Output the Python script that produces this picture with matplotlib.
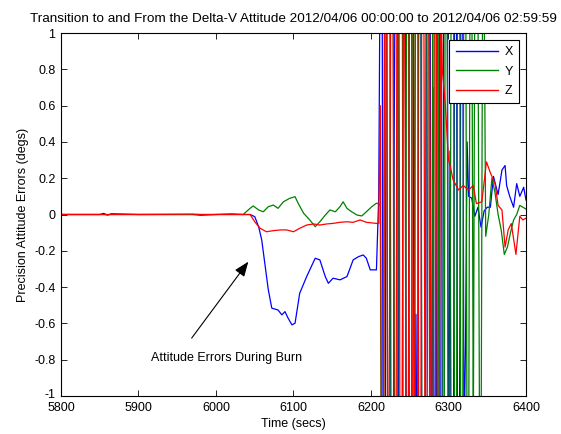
import matplotlib
matplotlib.use("Agg")
import matplotlib.pyplot as plt
from matplotlib.transforms import ScaledTranslation

plt.rcParams['font.family'] = ['Liberation Sans', 'DejaVu Sans']

title = "Transition to and From the Delta-V Attitude 2012/04/06 00:00:00 to 2012/04/06 02:59:59"
xlabel = "Time (secs)"
ylabel = "Precision Attitude Errors (degs)"
annot_text = "Attitude Errors During Burn"
series_names = ["X", "Y", "Z"]
series_colors = ["#0000ff", "#008000", "#ff0000"]
xticks = [5800, 5900, 6000, 6100, 6200, 6300, 6400]
yticks = [-1, -0.8, -0.6, -0.4, -0.2, 0, 0.2, 0.4, 0.6, 0.8, 1]
ytick_labels = ["-1", "-0.8", "-0.6", "-0.4", "-0.2", "0", "0.2", "0.4", "0.6", "0.8", "1"]

# ---- pre-burn (quiet) ----
t_pre = [5800, 5850, 5855, 5860, 5865, 5900, 5970, 5980, 6000, 6020, 6035]
x_pre = [0, 0, 0.006, -0.003, 0.004, 0, 0, -0.004, 0, 0.003, 0]
y_pre = [0, 0, 0, 0, 0, 0, 0, 0, 0, 0, 0]
z_pre = [0, 0, 0, -0.002, 0, 0, 0.002, 0, 0, 0, 0]

# ---- burn ----
t_burn_x = [6044, 6050, 6055, 6059, 6063, 6067.5, 6072, 6080, 6085, 6089, 6093, 6098,
            6102, 6108, 6117, 6128, 6134, 6141, 6145, 6151, 6160, 6169, 6177, 6184,
            6190, 6194, 6199, 6207]
x_burn = [0, -0.012, -0.067, -0.14, -0.27, -0.415, -0.516, -0.526, -0.553, -0.535, -0.571,
          -0.608, -0.599, -0.434, -0.342, -0.241, -0.25, -0.342, -0.379, -0.351, -0.36,
          -0.342, -0.25, -0.232, -0.223, -0.241, -0.305, -0.305]
t_burn_y = [6044, 6048, 6055, 6061, 6067.5, 6074, 6080, 6087, 6095, 6102, 6106, 6113,
            6121, 6128, 6134, 6141, 6147, 6154, 6160, 6164, 6169, 6175, 6182, 6188,
            6194, 6201, 6207]
y_burn = [0.034, 0.047, 0.025, 0.015, 0.043, 0.052, 0.034, 0.07, 0.089, 0.098, 0.062,
          0.007, -0.03, -0.067, -0.04, -0.003, 0.025, 0.015, 0.043, 0.07, 0.034, 0.015,
          -0.003, -0.008, 0.015, 0.043, 0.062]
t_burn_z = [6044, 6050, 6057, 6065, 6074, 6083, 6091, 6100, 6108, 6117, 6126, 6134,
            6143, 6151, 6160, 6169, 6177, 6186, 6194, 6207]
z_burn = [0, -0.04, -0.076, -0.095, -0.089, -0.085, -0.085, -0.095, -0.076, -0.058,
          -0.052, -0.058, -0.052, -0.049, -0.043, -0.04, -0.043, -0.03, -0.043, -0.049]

# ---- chaotic transition (2 s samples from 6210) ----
x_chaos = [0.1, 1.6, 2.2, -2.2, -2.6, 2.4, 3.0, 2.5, -1.9, -2.8, 0.45, 2.1, 2.6, -2.5,
           -3.0, -2.2, 2.3, 1.8, -2.6, -2.1, 2.9, 2.2, 2.6, -2.4, -0.55, -2.0, 2.8, 2.3,
           -2.9, -1.9, -2.3, 2.5, 1.8, 2.1, -2.6, 0.7, -2.0, -2.4, 2.4, 1.6, -2.7, -2.2,
           1.7, 2.4, 2.6, -1.9, 0.35, -2.3, -2.2, 1.5, 1.9, -2.1, -1.5, 1.2, 1.8, -1.3,
           -0.7, 0.4, 0.1]
y_chaos = [0.06, 0.05, -2.5, -2.0, 2.2, 2.6, -2.8, -2.4, 3.0, 1.9, -0.6, -2.9, -2.1, 2.5,
           2.8, 2.3, -2.6, -3.0, 1.7, 2.4, -2.2, -1.9, 2.9, 0.3, -2.7, -2.2, 2.2, 2.6,
           -2.3, -2.8, -0.9, 2.5, 2.7, -2.0, -2.5, 2.1, 1.9, -2.2, -2.9, 2.3, 2.6, -1.8,
           -2.4, 2.0, 1.6, -2.1, -0.8, 2.2, 2.4, -1.7, -2.0, 1.9, 2.1, -1.6, -1.9, 1.8,
           1.7, -1.5, -1.4, 1.6, 1.5, -1.3, 1.4, 1.3, 1.2, -1.2, -1.4, 1.3, 1.2, -0.12]
z_chaos = [-0.05, 0.6, -1.8, -2.3, 2.4, 2.0, -2.6, -0.4, 2.5, 2.2, -1.9, -2.4, 2.8, 1.5,
           -2.7, -2.0, 2.3, 0.55, -2.2, -1.8, 2.6, 2.0, -2.5, -1.7, 2.4, 1.9, -2.1, -2.3,
           2.5, 1.6, -1.9, -2.4, 2.1, 0.65, -1.8, -1.5, 2.2, 1.6, -1.7, -1.2, 1.3, 0.8]
t_chaos_start = 6210
t_chaos_step = 2

# ---- settling tail ----
t_tail_x = [6330, 6334, 6338, 6342, 6346, 6350, 6354, 6358, 6364, 6369, 6373, 6375,
            6379, 6384, 6388, 6392, 6397, 6400]
x_tail = [0.09, -0.01, 0.04, -0.07, 0.02, 0.04, 0.04, 0.21, 0.11, 0.245, 0.27, 0.16,
          0.1, 0.04, 0.17, 0.1, 0.15, 0.08]
t_tail_y = [6352, 6356, 6360, 6364, 6368, 6372, 6376, 6380, 6384, 6388, 6392, 6396, 6400]
y_tail = [0.0, 0.2, 0.12, 0.0, -0.085, -0.22, -0.18, -0.1, -0.03, 0.0, 0.05, 0.04, 0.03]
t_tail_z = [6296, 6300, 6302, 6306, 6313, 6319, 6326, 6332, 6336, 6343, 6349, 6354,
            6360, 6364, 6369, 6373, 6377, 6381, 6387, 6392, 6396, 6400]
z_tail = [0.6, 0.3, 0.27, 0.19, 0.135, 0.16, 0.135, 0.16, 0.06, 0.07, 0.29, 0.23, 0.17,
          0.05, 0.025, -0.18, -0.085, -0.05, -0.22, -0.01, -0.03, -0.02]


def chaos_times(vals):
    return [t_chaos_start + t_chaos_step * i for i in range(len(vals))]


tx = t_pre + t_burn_x + chaos_times(x_chaos) + t_tail_x
vx = x_pre + x_burn + x_chaos + x_tail
ty = t_pre + t_burn_y + chaos_times(y_chaos) + t_tail_y
vy = y_pre + y_burn + y_chaos + y_tail
tz = t_pre + t_burn_z + chaos_times(z_chaos) + t_tail_z
vz = z_pre + z_burn + z_chaos + z_tail

fig = plt.figure(figsize=(5.61, 4.34), dpi=100)
ax = fig.add_axes([61/561, 1 - 396/434, 465/561, 363/434])

for t, v, name, c in zip([tx, ty, tz], [vx, vy, vz], series_names, series_colors):
    ax.plot(t, v, color=c, lw=0.9, label=name)

ax.set_xlim(5800, 6400)
ax.set_ylim(-1, 1)
ax.set_xticks(xticks)
ax.set_xticklabels([str(v) for v in xticks])
ax.set_yticks(yticks)
ax.set_yticklabels(ytick_labels)
ax.tick_params(direction='in', length=4, width=0.6, top=True, right=True,
               labelsize=9, pad=4, colors='black')
lbl = ax.get_yticklabels()[0]
lbl.set_transform(lbl.get_transform() + ScaledTranslation(0, 3/100, fig.dpi_scale_trans))
for s in ax.spines.values():
    s.set_linewidth(0.8)
    s.set_color('black')

ax.set_title(title, fontsize=9.7, pad=8)
ax.set_xlabel(xlabel, fontsize=9, labelpad=3)
ax.set_ylabel(ylabel, fontsize=9, labelpad=4)

leg = ax.legend(loc='upper right', bbox_to_anchor=(0.985, 0.981), fontsize=9,
                fancybox=False, edgecolor='black', framealpha=1, handlelength=3.4,
                borderpad=0.5, labelspacing=0.6, handletextpad=0.5, borderaxespad=0)
leg.get_frame().set_linewidth(0.8)
for h in leg.get_lines():
    h.set_linewidth(1.0)

ax.annotate('', xy=(6041.7, -0.26), xytext=(5968.6, -0.681),
            arrowprops=dict(arrowstyle='-|>,head_length=0.9,head_width=0.35',
                            color='black', lw=0.8, shrinkA=0, shrinkB=0))
ax.text(6013.5, -0.79, annot_text, ha='center', va='center', fontsize=9)

fig.savefig("out.png", dpi=100)
